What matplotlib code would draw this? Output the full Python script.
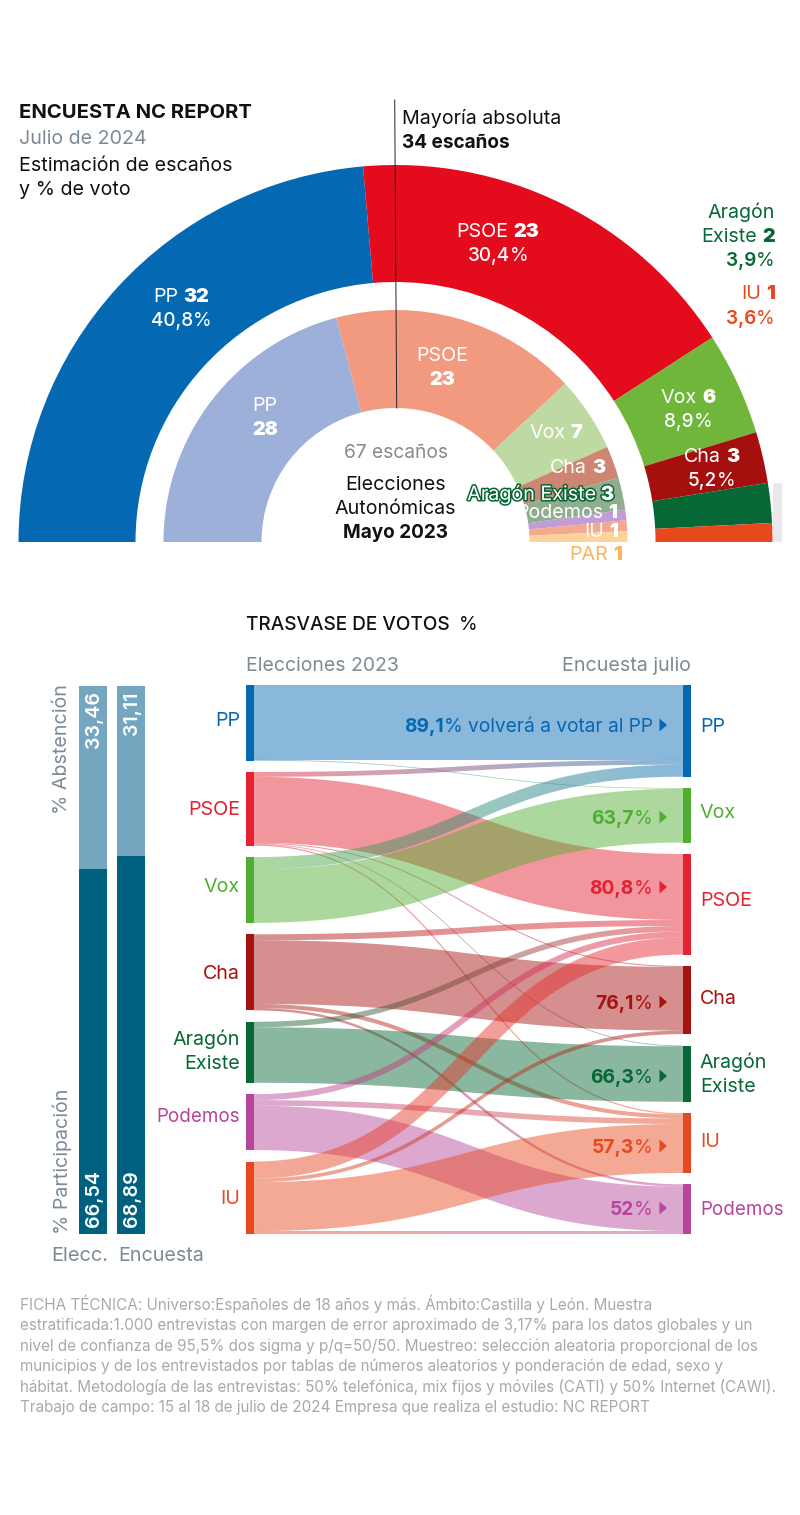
# -*- coding: utf-8 -*-
import numpy as np
import matplotlib
matplotlib.use("Agg")
import matplotlib.pyplot as plt
import matplotlib.patheffects as pe
from matplotlib.colors import to_rgb
from matplotlib.collections import PolyCollection
from matplotlib.patches import Wedge, Rectangle

plt.rcParams['font.family'] = ['Inter', 'DejaVu Sans']

# encuesta julio: escanos (el arco del original no es exacto, se lee de la imagen)
survey_parties = ["PP", "PSOE", "Vox", "Cha", "Aragón Existe", "IU"]
survey_seats = [32, 23, 6, 3, 2, 1]
survey_arc_seats = [31.66, 23.12, 5.92, 2.94, 2.28, 1.08]
survey_votes = ["40,8", "30,4", "8,9", "5,2", "3,9", "3,6"]

# elecciones 2023
election_parties = ["PP", "PSOE", "Vox", "Cha", "Aragón Existe", "Podemos", "IU", "PAR"]
election_seats = [28, 23, 7, 3, 3, 1, 1, 1]

# participacion
bar_labels = ["Elecc.", "Encuesta"]
abstention = [33.46, 31.11]
turnout = [66.54, 68.89]

# trasvase
left_nodes = ["PP", "PSOE", "Vox", "Cha", "AE", "Podemos", "IU"]
right_nodes = ["PP", "Vox", "PSOE", "Cha", "AE", "IU", "Podemos"]
flow_source = ["PP", "PP", "PSOE", "PSOE", "PSOE", "PSOE", "PSOE", "Vox", "Vox", "Cha", "Cha",
               "Cha", "Cha", "AE", "AE", "Podemos", "Podemos", "Podemos", "IU", "IU", "IU", "IU"]
flow_target = ["PP", "Vox", "PP", "PSOE", "Cha", "AE", "IU", "PP", "Vox", "PSOE", "Cha",
               "IU", "Podemos", "PSOE", "AE", "PSOE", "IU", "Podemos", "PSOE", "Cha", "IU", "Podemos"]
flow_value = [15.6, 0.15, 1.0, 13.75, 0.2, 0.15, 0.25, 2.5, 11.2, 1.25, 13.25,
              0.85, 0.5, 1.15, 11.55, 1.25, 1.15, 9.25, 3.55, 0.75, 10.2, 0.6]
retained = {"PP": "89,1", "Vox": "63,7", "PSOE": "80,8", "Cha": "76,1",
            "AE": "66,3", "IU": "57,3", "Podemos": "52"}

footer = [
    "FICHA TÉCNICA: Universo:Españoles de 18 años y más. Ámbito:Castilla y León. Muestra",
    "estratificada:1.000 entrevistas con margen de error aproximado de 3,17% para los datos globales y un",
    "nivel de confianza de 95,5% dos sigma y p/q=50/50. Muestreo: selección aleatoria proporcional de los",
    "municipios y de los entrevistados por tablas de números aleatorios y ponderación de edad, sexo y",
    "hábitat. Metodología de las entrevistas: 50% telefónica, mix fijos y móviles (CATI) y 50% Internet (CAWI).",
    "Trabajo de campo: 15 al 18 de julio de 2024 Empresa que realiza el estudio: NC REPORT",
]
footer_right = [654, 756, 762, 727, 779, 652]

colors = {"PP": "#0568b3", "PSOE": "#e52030", "Vox": "#4fae32", "Cha": "#a5120f",
          "AE": "#076735", "Podemos": "#b6469c", "IU": "#e8481e"}
survey_colors = ["#0568b3", "#e30b1c", "#6fb63b", "#a5100f", "#076735", "#e8481e"]
election_colors = ["#9db0da", "#f29a80", "#bfd9a2", "#cc8672", "#8fae8f", "#c19dd3", "#f3a88f", "#fdd39a"]
GREY = "#7d8a96"
FS = 19.7

fig = plt.figure(figsize=(8, 15.15), dpi=100)
ax = fig.add_axes([0, 0, 1, 1])
ax.set_xlim(0, 800)
ax.set_ylim(1515, 0)
ax.axis("off")
renderer = fig.canvas.get_renderer()

PX = 0.72  # px de fuente a puntos


def rich(x, y, runs, size=FS, ha="left", gap=5, **kw):
    # texto con tramos normal/negrita en una sola linea, (texto, color, peso)
    items = [ax.text(0, y, t, fontsize=size * PX, color=c, fontweight=w, va="baseline", **kw)
             for t, c, w in runs]
    widths = [i.get_window_extent(renderer).width for i in items]
    total = sum(widths) + gap * (len(items) - 1)
    cur = x - total if ha == "right" else x - total / 2 if ha == "center" else x
    for i, wd in zip(items, widths):
        i.set_x(cur)
        cur += wd + gap
    return items


def ring(values, cols, r_out, r_in, cx=395.5, cy=542):
    # en eje y invertido el angulo de Wedge va en sentido contrario, por eso 180 -> 360
    angle = 180.0
    total = sum(values)
    for v, c in zip(values, cols):
        span = 180.0 * v / total
        ax.add_patch(Wedge((cx, cy), r_out, angle, angle + span, width=r_out - r_in,
                           facecolor=c, edgecolor="none"))
        angle += span


ax.add_patch(Rectangle((772.5, 483), 9, 59, facecolor="#e9e9eb", edgecolor="none"))
ring(survey_arc_seats, survey_colors, 377, 260)
ring(election_seats, election_colors, 232, 134)
ax.plot([394.7, 396.7], [100, 408], color="#222222", lw=0.7)

# cabecera
ax.text(19, 118, "ENCUESTA NC REPORT", fontsize=20.2 * PX, fontweight="bold", color="#111111")
ax.text(19, 144, "Julio de 2024", fontsize=FS * PX, color=GREY)
ax.text(19, 171, "Estimación de escaños", fontsize=FS * PX, color="#111111")
ax.text(19, 195, "y % de voto", fontsize=FS * PX, color="#111111")
ax.text(402.5, 123.5, "Mayoría absoluta", fontsize=FS * PX, color="#111111")
ax.text(402.5, 147.5, "34 escaños", fontsize=19 * PX, fontweight="bold", color="#111111")

# etiquetas anillo exterior
WHITE = "white"
outer_pos = {"PP": (181, 302), "PSOE": (498, 237), "Vox": (688, 403), "Cha": (712, 462)}
for p, s, v in zip(survey_parties, survey_seats, survey_votes):
    if p in outer_pos:
        x, y = outer_pos[p]
        rich(x, y, [(p, WHITE, "normal"), (str(s), WHITE, "black")], ha="center", gap=5.5)
        rich(x, y + 24, [(v, WHITE, "medium"), ("%", WHITE, "normal")], size=19, ha="center", gap=0)
AE_C = colors["AE"]
IU_C = colors["IU"]
rich(775, 218, [("Aragón", AE_C, "normal")], ha="right")
rich(775, 242, [("Existe", AE_C, "normal"), (str(survey_seats[4]), AE_C, "black")], ha="right")
rich(775, 266, [(survey_votes[4], AE_C, "semibold"), ("%", AE_C, "normal")], size=19, ha="right", gap=0)
rich(775, 299, [("IU", IU_C, "normal"), (str(survey_seats[5]), IU_C, "black")], ha="right")
rich(775, 324, [(survey_votes[5], IU_C, "semibold"), ("%", IU_C, "normal")], size=19, ha="right", gap=0)

# etiquetas anillo interior
rich(265, 411, [("PP", WHITE, "normal")], ha="center")
rich(265, 435, [(str(election_seats[0]), WHITE, "black")], ha="center")
rich(442, 361, [("PSOE", WHITE, "normal")], ha="center")
rich(442, 385, [(str(election_seats[1]), WHITE, "black")], ha="center")
rich(556, 438, [("Vox", WHITE, "normal"), (str(election_seats[2]), WHITE, "black")], ha="center")
rich(605, 473, [("Cha", WHITE, "normal"), (str(election_seats[3]), WHITE, "black")], ha="right")
halo = [pe.withStroke(linewidth=2.2, foreground=AE_C)]
rich(614, 500, [("Aragón Existe", WHITE, "normal"), (str(election_seats[4]), WHITE, "black")],
     ha="right", path_effects=halo)
rich(617, 518, [("Podemos", WHITE, "normal"), (str(election_seats[5]), WHITE, "black")], ha="right")
rich(618, 537, [("IU", WHITE, "normal"), (str(election_seats[6]), WHITE, "black")], ha="right")
PAR_C = "#f9b45c"
rich(622, 560, [("PAR", PAR_C, "normal"), (str(election_seats[7]), PAR_C, "black")], ha="right")

ax.text(395.5, 458, "67 escaños", fontsize=19.2 * PX, color="#8a8a8a", ha="center")
ax.text(395.5, 490, "Elecciones", fontsize=FS * PX, color="#111111", ha="center")
ax.text(395.5, 514, "Autonómicas", fontsize=FS * PX, color="#111111", ha="center")
ax.text(395.5, 538, "Mayo 2023", fontsize=19 * PX, fontweight="bold", color="#111111", ha="center")

# barras de participacion
bar_x = [79.3, 117.3]
bar_w = 27.4
bar_top, bar_h = 685.7, 548.3
for x, a, t in zip(bar_x, abstention, turnout):
    ax.bar(x, a * bar_h / 100, bottom=bar_top, width=bar_w, align="edge", color="#74a6c0")
    ax.bar(x, t * bar_h / 100, bottom=bar_top + a * bar_h / 100, width=bar_w, align="edge", color="#00607f")
    ax.text(x + bar_w / 2 + 0.5, bar_top + 5.5, f"{a:.2f}".replace(".", ","), rotation=90, color="white",
            fontsize=FS * PX, fontweight="semibold", ha="center", va="top")
    ax.text(x + bar_w / 2 + 0.5, bar_top + bar_h - 7, f"{t:.2f}".replace(".", ","), rotation=90, color="white",
            fontsize=FS * PX, fontweight="semibold", ha="center", va="bottom")
ax.text(62, 814, "% Abstención", rotation=90, fontsize=FS * PX, color=GREY, ha="center", va="bottom")
ax.text(62, 1234, "% Participación", rotation=90, fontsize=FS * PX, color=GREY, ha="center", va="bottom")
ax.text(51.5, 1261, bar_labels[0], fontsize=20 * PX, color=GREY)
ax.text(118, 1261, bar_labels[1], fontsize=FS * PX, color=GREY)

ax.text(246.5, 630, "TRASVASE DE VOTOS", fontsize=19 * PX, fontweight="medium", color="#111111")
ax.text(459, 630, "%", fontsize=19 * PX, color="#111111")
ax.text(246.5, 671, "Elecciones 2023", fontsize=19.4 * PX, color=GREY)
ax.text(691, 671, "Encuesta julio", fontsize=FS * PX, color=GREY, ha="right")

# sankey
PX_PER_UNIT = 4.8
SANKEY_TOP, SANKEY_H = 685.0, 549.0
X0, X1 = 254, 683
NODE_W = 8
FLOW_ALPHA = 0.47


def node_tops(nodes, field):
    sizes = [sum(v for f, v in zip(field, flow_value) if f == n) * PX_PER_UNIT for n in nodes]
    gap = (SANKEY_H - sum(sizes)) / (len(nodes) - 1)
    tops, y = {}, SANKEY_TOP
    for n, s in zip(nodes, sizes):
        tops[n] = (y, s)
        y += s + gap
    return tops


left_pos = node_tops(left_nodes, flow_source)
right_pos = node_tops(right_nodes, flow_target)

# los flujos se apilan ordenados por el nodo del otro lado
order_left = sorted(range(len(flow_value)), key=lambda i: (left_nodes.index(flow_source[i]), right_nodes.index(flow_target[i])))
order_right = sorted(range(len(flow_value)), key=lambda i: (right_nodes.index(flow_target[i]), left_nodes.index(flow_source[i])))
y_left, y_right = {}, {}
used = {n: 0.0 for n in left_nodes}
for i in order_left:
    w = flow_value[i] * PX_PER_UNIT
    y_left[i] = left_pos[flow_source[i]][0] + used[flow_source[i]] + w / 2
    used[flow_source[i]] += w
used = {n: 0.0 for n in right_nodes}
for i in order_right:
    w = flow_value[i] * PX_PER_UNIT
    y_right[i] = right_pos[flow_target[i]][0] + used[flow_target[i]] + w / 2
    used[flow_target[i]] += w


def ribbon(y0, y1, w):
    # enlace horizontal tipo d3 con grosor perpendicular constante
    t = np.linspace(0, 1, 900)
    mx = (X0 + X1) / 2
    x = (1 - t) ** 3 * X0 + 3 * (1 - t) ** 2 * t * mx + 3 * (1 - t) * t ** 2 * mx + t ** 3 * X1
    y = (1 - t) ** 3 * y0 + 3 * (1 - t) ** 2 * t * y0 + 3 * (1 - t) * t ** 2 * y1 + t ** 3 * y1
    dx, dy = np.gradient(x, t), np.gradient(y, t)
    n = np.hypot(dx, dy)
    nx, ny = -dy / n, dx / n
    xs = np.arange(X0, X1 + 1)
    xt = np.maximum.accumulate(x - nx * w / 2)
    xb = np.maximum.accumulate(x + nx * w / 2)
    return xs, np.interp(xs, xt, y - ny * w / 2), np.interp(xs, xb, y + ny * w / 2)


for i, v in enumerate(flow_value):
    xs, top, bot = ribbon(y_left[i], y_right[i], v * PX_PER_UNIT)
    c0 = np.array(to_rgb(colors[flow_source[i]]))
    c1 = np.array(to_rgb(colors[flow_target[i]]))
    frac = ((xs[:-1] - X0) / (X1 - X0))[:, None]
    rgba = np.hstack([c0 * (1 - frac) + c1 * frac, np.full_like(frac, FLOW_ALPHA)])
    quads = [[(xs[k], top[k]), (xs[k + 1], top[k + 1]), (xs[k + 1], bot[k + 1]), (xs[k], bot[k])]
             for k in range(len(xs) - 1)]
    ax.add_collection(PolyCollection(quads, facecolors=rgba, edgecolors="none", linewidths=0, zorder=2))

for n, (y, s) in left_pos.items():
    ax.add_patch(Rectangle((X0 - NODE_W, y), NODE_W, s, facecolor=colors[n], edgecolor="none", zorder=3))
for n, (y, s) in right_pos.items():
    ax.add_patch(Rectangle((X1, y), NODE_W + 0.3, s, facecolor=colors[n], edgecolor="none", zorder=3))

# las etiquetas no van centradas en el nodo, alturas leidas del original
names = {"PP": ["PP"], "PSOE": ["PSOE"], "Vox": ["Vox"], "Cha": ["Cha"],
         "AE": ["Aragón", "Existe"], "Podemos": ["Podemos"], "IU": ["IU"]}
left_label_y = {"PP": 726, "PSOE": 815, "Vox": 892, "Cha": 979, "AE": 1045, "Podemos": 1122, "IU": 1204}
right_label_y = {"PP": 732, "Vox": 818, "PSOE": 906, "Cha": 1004, "AE": 1068, "IU": 1147, "Podemos": 1215}
retained_y = {"PP": 732, "Vox": 824, "PSOE": 894, "Cha": 1009, "AE": 1083, "IU": 1153, "Podemos": 1215}
for n in left_nodes:
    fs = 18.8 if n == "Podemos" else FS
    for k, name in enumerate(names[n]):
        ax.text(240, left_label_y[n] + k * 24, name, fontsize=fs * PX, color=colors[n], ha="right", zorder=4)
        ax.text(700, right_label_y[n] + k * 24, name, fontsize=fs * PX, color=colors[n], ha="left", zorder=4)

# porcentajes de fidelidad
for n in right_nodes:
    c = colors[n]
    yc = retained_y[n]
    runs = [(retained[n], c, "bold"), ("%", c, "normal")]
    if n == "PP":
        head = rich(652.5, yc, [("volverá a votar al PP", c, "normal")], ha="right", size=19.2, zorder=4)[0]
        left_edge = head.get_window_extent(renderer).x0 - 5
        rich(left_edge, yc, runs, size=19.2, ha="right", gap=0, zorder=4)
    else:
        rich(652.5, yc, runs, size=19.2, ha="right", gap=0, zorder=4)
    ax.fill([659.5, 659.5, 667], [yc - 13.5, yc - 0.5, yc - 7], color=c, lw=0, zorder=4)

# cada linea del pie se ajusta al ancho del original
for k, (line, end) in enumerate(zip(footer, footer_right)):
    t = ax.text(20, 1310 + k * 20.4, line, fontsize=15.6 * PX, color="#a9a9a9")
    t.set_fontsize(15.6 * PX * (end - 20) / t.get_window_extent(renderer).width)

fig.savefig("out.png", dpi=100, facecolor="white")
